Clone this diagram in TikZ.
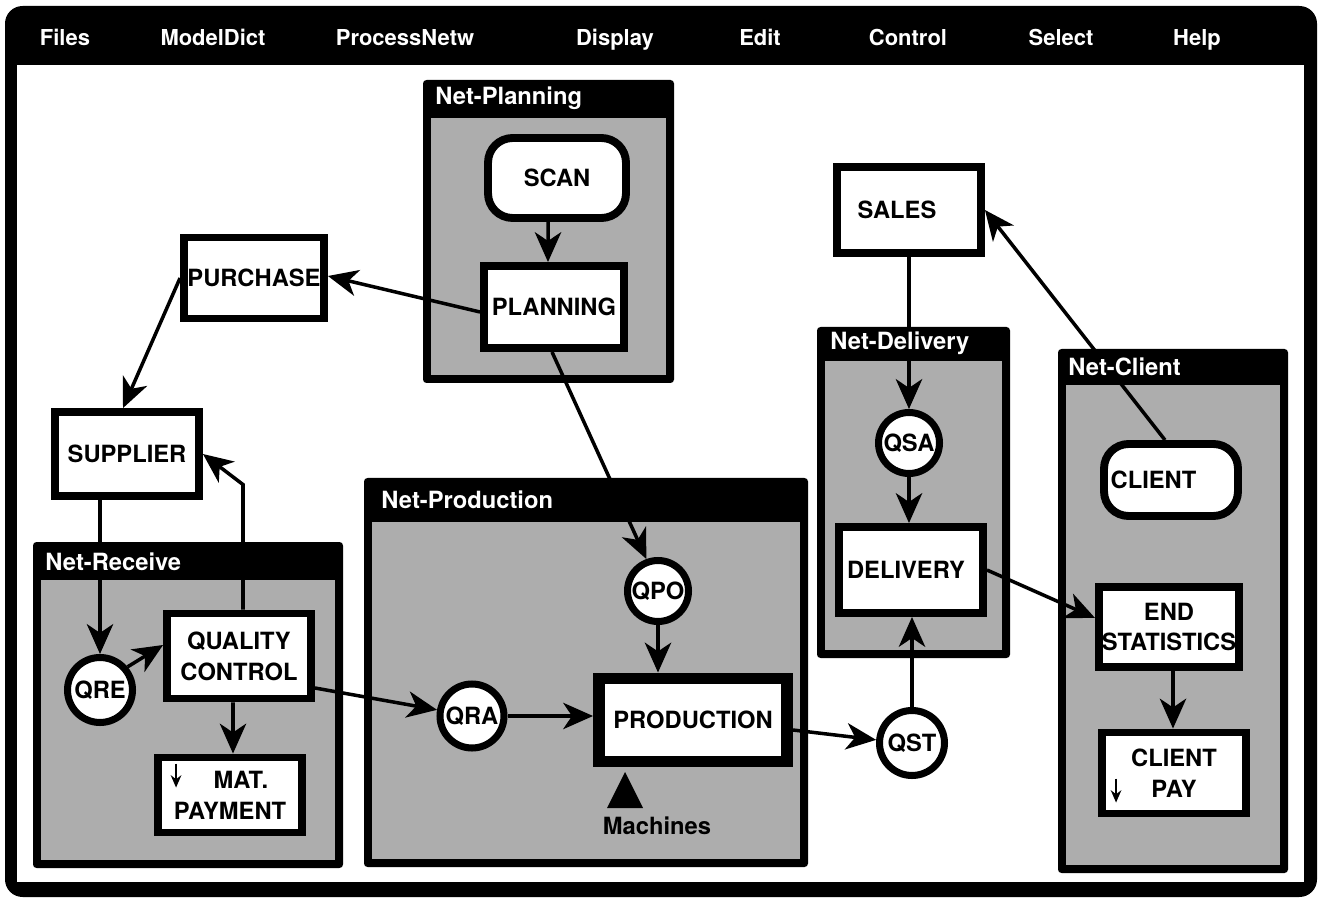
\documentclass[tikz,border=0pt]{standalone}
\usepackage{fontspec}
\setmainfont{TeX Gyre Heros}
\usetikzlibrary{arrows.meta}

\newcommand{\boxfont}{\fontsize{13.5}{17.5}\selectfont\bfseries}
\newcommand{\menufont}{\fontsize{12.5}{15}\selectfont\bfseries}

\tikzset{
  proc/.style={draw, line width=4.5pt, fill=white, inner sep=0pt, align=center, font=\boxfont},
  round proc/.style={proc, rounded corners=14pt},
  queue/.style={circle, draw, line width=4pt, fill=white, inner sep=0pt, font=\boxfont},
  arr/.style={line width=2pt, -{Stealth[length=17pt,width=15pt,inset=5pt]}},
  paymark/.style={line width=1.4pt, -{Stealth[length=7pt,width=6pt]}},
  nettitle/.style={anchor=west, text=white, font=\boxfont, inner sep=0pt},
  menu/.style={anchor=base, text=white, font=\menufont, inner sep=0pt},
  netfill/.style={fill=black!32},
}

\begin{document}
\begin{tikzpicture}[x=0.02cm, y=-0.02cm]
  \useasboundingbox (0,0) rectangle (1319,898);
  % window frame and menu bar
  \fill[black, rounded corners=10pt] (5,6) rectangle (1317,897);
  \fill[white] (17,65) rectangle (1304,882);
  \foreach \mx/\mtext [count=\i] in {65/Files, 213/ModelDict, 405/ProcessNetw, 615/Display,
      760/Edit, 908/Control, 1061/Select, 1197/Help}
    \node[menu] (menu\i) at (\mx,46) {\mtext};

  % nets
  \fill[black, rounded corners=2pt] (423,80) rectangle (674,383);
  \fill[netfill] (431,118) rectangle (666,375);

  \fill[black, rounded corners=2pt] (33,542) rectangle (343,868);
  \fill[netfill] (41,580) rectangle (335,860);

  \fill[black, rounded corners=2pt] (364,478) rectangle (808,867);
  \fill[netfill] (372,522) rectangle (800,859);

  \fill[black, rounded corners=2pt] (817,327) rectangle (1010,658);
  \fill[netfill] (825,361) rectangle (1002,650);

  \fill[black, rounded corners=2pt] (1058,349) rectangle (1288,873);
  \fill[netfill] (1066,385) rectangle (1280,865);

  % processes and queues
  \node[round proc, minimum width=2.76cm, minimum height=1.6cm] (scan) at (557,178) {SCAN};
  \node[proc, minimum width=2.8cm, minimum height=1.64cm] (planning) at (554,307) {PLANNING};
  \node[proc, minimum width=2.8cm, minimum height=1.62cm] (purchase) at (254,278) {PURCHASE};
  \node[proc, minimum width=2.88cm, minimum height=1.68cm] (supplier) at (127,454) {SUPPLIER};
  \node[queue, minimum size=1.3cm] (qre) at (100,690) {QRE};
  \node[proc, minimum width=2.88cm, minimum height=1.7cm] (qc) at (239,656) {QUALITY\\CONTROL};
  \node[proc, minimum width=2.88cm, minimum height=1.5cm] (matpay) at (230,795) {\hspace*{0.44cm}MAT.\\PAYMENT};
  \node[queue, minimum size=1.28cm] (qra) at (472,716) {QRA};
  \node[queue, minimum size=1.22cm] (qpo) at (658,591) {QPO};
  \node[proc, line width=6.8pt, minimum width=3.76cm, minimum height=1.66cm] (production) at (693,720) {PRODUCTION};
  \node[queue, minimum size=1.3cm] (qst) at (912,743) {QST};
  \node[proc, minimum width=2.88cm, minimum height=1.72cm] (sales) at (909,210) {SALES\hspace*{0.48cm}};
  \node[queue, minimum size=1.22cm] (qsa) at (909,443) {QSA};
  \node[proc, minimum width=2.88cm, minimum height=1.72cm] (delivery) at (911,570) {DELIVERY\hspace*{0.2cm}};
  \node[round proc, minimum width=2.68cm, minimum height=1.44cm] (client) at (1171,480) {CLIENT\hspace*{0.7cm}};
  \node[proc, minimum width=2.8cm, minimum height=1.6cm] (endstat) at (1169,627) {END\\STATISTICS};
  \node[proc, minimum width=2.88cm, minimum height=1.62cm] (clientpay) at (1174,773) {CLIENT\\PAY};

  % machines resource
  \fill (625,772) -- (643,808) -- (607,808) -- cycle;
  \node[font=\boxfont, inner sep=0pt] (machines) at (657,826) {Machines};

  % connectors
  \draw[arr] ([xshift=-0.18cm]scan.south) -- ([xshift=-0.12cm]planning.north);
  \draw[arr] ([yshift=-0.1cm]planning.west) -- ([yshift=0.04cm]purchase.east);
  \draw[arr] (purchase.west) -- ([xshift=-0.08cm]supplier.north);
  \draw[arr] ([xshift=-0.54cm]supplier.south) -- (qre.north);
  \draw[arr] ([xshift=0.08cm]qc.north) -- ++(0,-125) -- (supplier.east);
  \draw[arr] (qre.40) -- ([yshift=0.22cm]qc.west);
  \draw[arr] ([xshift=-0.12cm]qc.south) -- ([xshift=0.06cm]matpay.north);
  \draw[arr] ([yshift=-0.64cm]qc.east) -- (qra.170);
  \draw[arr] (qra.east) -- (qra.east -| production.west);
  \draw[arr] (qpo.south) -- (qpo.south |- production.north);
  \draw[arr] ([xshift=-0.04cm]planning.south) -- (qpo.110);
  \draw[arr] ([yshift=-0.2cm]production.east) -- (qst.175);
  \draw[arr] (qst.north) -- (qst.north |- delivery.south);
  \draw[arr] (sales.south) -- (qsa.north);
  \draw[arr] (qsa.south) -- (qsa.south |- delivery.north);
  \draw[arr] (delivery.east) -- ([yshift=0.18cm]endstat.west);
  \draw[arr] ([xshift=-0.12cm]client.north) -- (sales.east);
  \draw[arr] ([xshift=0.08cm]endstat.south) -- ([xshift=0.08cm]endstat.south |- clientpay.north);

  % payment marks
  \draw[paymark] ([xshift=0.44cm,yshift=-0.2cm]matpay.north west) -- ++(0,24);
  \draw[paymark] ([xshift=0.36cm,yshift=-1.0cm]clientpay.north west) -- ++(0,24);

  % net titles on top
  \node[nettitle] (tplanning) at (435,98) {Net-Planning};
  \node[nettitle] (treceive) at (45,562) {Net-Receive};
  \node[nettitle] (tproduction) at (381,500) {Net-Production};
  \node[nettitle] (tdelivery) at (830,343) {Net-Delivery};
  \node[nettitle] (tclient) at (1068,367) {Net-Client};
\end{tikzpicture}
\end{document}
